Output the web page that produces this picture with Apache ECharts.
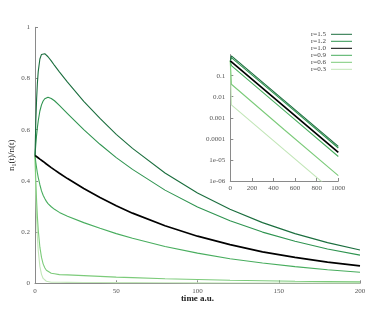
<!DOCTYPE html>
<html><head><meta charset="utf-8">
<script src="https://cdn.jsdelivr.net/npm/echarts@6/dist/echarts.min.js"></script>
<style>html,body{margin:0;padding:0;background:#fff}#c{width:374px;height:309px}</style>
</head><body><div id="c"></div>
<script>
// ---- data ----
var seriesNames = ['r=1.5','r=1.2','r=1.0','r=0.9','r=0.6','r=0.3'];
var seriesColors = ['#1b6e3e','#2f9450','#000000','#48ad5e','#7ccb7a','#c2e6b8'];
var seriesWidths = [1.1,1.1,1.7,1.1,1.1,1.1];

// main panel (linear)
var tMain = [0,0.5,1,1.5,2,3,4,5,6,7,8,10,12,15,20,30,40,50,60,80,100,120,140,160,180,200];
var r15 = [0.5,0.631,0.722,0.785,0.828,0.876,0.894,0.899,0.897,0.892,0.885,0.869,0.851,0.826,0.786,0.711,0.644,0.582,0.527,0.431,0.353,0.289,0.237,0.194,0.159,0.130];
var r12 = [0.5,0.543,0.580,0.610,0.635,0.673,0.697,0.712,0.721,0.725,0.727,0.722,0.713,0.695,0.663,0.600,0.543,0.491,0.445,0.364,0.298,0.244,0.200,0.164,0.134,0.110];
var r10 = [0.5,0.4975,0.495,0.4925,0.490,0.485,0.480,0.476,0.471,0.466,0.462,0.452,0.443,0.430,0.409,0.370,0.335,0.303,0.274,0.225,0.184,0.151,0.123,0.101,0.083,0.068];
var r09 = [0.5,0.473,0.450,0.430,0.413,0.385,0.361,0.344,0.331,0.320,0.311,0.299,0.289,0.277,0.262,0.237,0.215,0.194,0.176,0.144,0.118,0.096,0.079,0.065,0.053,0.043];
var r06 = [0.5,0.398,0.319,0.257,0.208,0.141,0.101,0.076,0.061,0.051,0.045,0.039,0.037,0.034,0.033,0.030,0.027,0.024,0.022,0.018,0.015,0.012,0.010,0.008,0.0066,0.0054];
var r03 = [0.5,0.353,0.250,0.178,0.127,0.066,0.035,0.019,0.012,0.008,0.006,0.0041,0.0040,0.0039,0.0037,0.0033,0.0030,0.0027,0.0025,0.0020,0.0017,0.0014,0.0011,0.0009,0.0007,0.0006];
var mainValues = [r15,r12,r10,r09,r06,r03];
var mainXTicks = [0,50,100,150,200];
var mainYTicks = [0,0.2,0.4,0.6,0.8,1];

// inset panel (log)
var tInset = [0,10,500,1000];
var i15 = [0.5,0.869,6.5e-3,4.4e-5];
var i12 = [0.5,0.722,5.5e-3,3.7e-5];
var i10 = [0.5,0.452,3.4e-3,2.27e-5];
var i09 = [0.5,0.299,2.2e-3,1.45e-5];
var i06 = [0.5,0.039,2.7e-4,1.8e-6];
var i03 = [0.5,0.0041,3.0e-5,2.0e-7];
var insetValues = [i15,i12,i10,i09,i06,i03];
var insetXTicks = [0,200,400,600,800,1000];
var insetYTicks = ['1e-06','1e-05','0.0001','0.001','0.01','0.1'];

var FONT = 'Liberation Serif';
var axisGray = '#8a8a8a';
var labelStyle = {fontFamily: FONT, fontSize: 7, color: '#555'};

function pairs(xs, ys){ return xs.map(function(x,i){ return [x, ys[i]]; }); }

var series = [];
seriesNames.forEach(function(n,k){
  series.push({name:n,type:'line',xAxisIndex:0,yAxisIndex:0,symbol:'none',
    data:pairs(tMain, mainValues[k]), lineStyle:{color:seriesColors[k],width:seriesWidths[k]},
    itemStyle:{color:seriesColors[k]}, z: 10-k});
});
seriesNames.forEach(function(n,k){
  series.push({name:n,type:'line',xAxisIndex:1,yAxisIndex:1,symbol:'none',
    data:pairs(tInset, insetValues[k]), lineStyle:{color:seriesColors[k],width:seriesWidths[k]},
    itemStyle:{color:seriesColors[k]}, z: 10-k});
});

var chart = echarts.init(document.getElementById('c'), null, {renderer:'canvas'});
chart.setOption({
  animation:false,
  backgroundColor:'#fff',
  grid:[
    {left:35, top:27.3, width:325, height:256, containLabel:false, outerBoundsMode:'none'},
    {left:230.3, top:54.6, width:108, height:126.4, containLabel:false, outerBoundsMode:'none'}
  ],
  xAxis:[
    {type:'value', gridIndex:0, min:mainXTicks[0], max:mainXTicks[mainXTicks.length-1], interval:50,
     name:'time a.u.', nameLocation:'middle', nameGap:11, nameMoveOverlap:false,
     nameTextStyle:{fontFamily:FONT,fontSize:9,color:'#222',fontWeight:'bold'},
     axisLine:{lineStyle:{color:axisGray}}, axisTick:{inside:true,length:3,lineStyle:{color:axisGray}},
     axisLabel:Object.assign({margin:4, formatter:function(v){return String(v);}}, labelStyle), splitLine:{show:false}},
    {type:'value', gridIndex:1, min:insetXTicks[0], max:insetXTicks[insetXTicks.length-1], interval:200,
     axisLine:{lineStyle:{color:axisGray}}, axisTick:{inside:true,length:3,lineStyle:{color:axisGray}},
     axisLabel:Object.assign({margin:4, formatter:function(v){return String(v);}}, labelStyle), splitLine:{show:false}}
  ],
  yAxis:[
    {type:'value', gridIndex:0, min:mainYTicks[0], max:mainYTicks[mainYTicks.length-1], interval:0.2,
     name:'{a|n}{s|1}{a|(t)/n(t)}', nameLocation:'middle', nameGap:18, nameRotate:90, nameMoveOverlap:false,
     nameTextStyle:{fontFamily:FONT,fontSize:9,color:'#222',
       rich:{a:{fontFamily:FONT,fontSize:9,color:'#222'}, s:{fontFamily:FONT,fontSize:6,color:'#222',verticalAlign:'bottom',padding:[4,0,0,0]}}},
     axisLine:{show:true,lineStyle:{color:axisGray}}, axisTick:{show:true,inside:true,length:3,lineStyle:{color:axisGray}},
     axisLabel:Object.assign({margin:5, formatter:function(v){return String(+v.toFixed(1));}}, labelStyle), splitLine:{show:false}},
    {type:'log', gridIndex:1, logBase:10, min:1e-6, max:1,
     axisLine:{show:true,lineStyle:{color:axisGray}}, axisTick:{show:true,inside:true,length:3,lineStyle:{color:axisGray}},
     axisLabel:Object.assign({margin:5, showMaxLabel:false, formatter:function(v){
        var e = Math.round(Math.log10(v));
        if (e >= 0) return '';
        return insetYTicks[e + 6];}}, labelStyle), splitLine:{show:false}}
  ],
  legend:{
    data:seriesNames, orient:'vertical', right:22, top:30.8, align:'right',
    itemWidth:21, itemHeight:7, itemGap:0, icon:'path://M0,3 L21,3 L21,4 L0,4 Z',
    textStyle:{fontFamily:FONT,fontSize:7,color:'#444',lineHeight:7,padding:[0,0,0,0]},
    padding:0, selectedMode:false
  },
  series:series
});
</script></body></html>
